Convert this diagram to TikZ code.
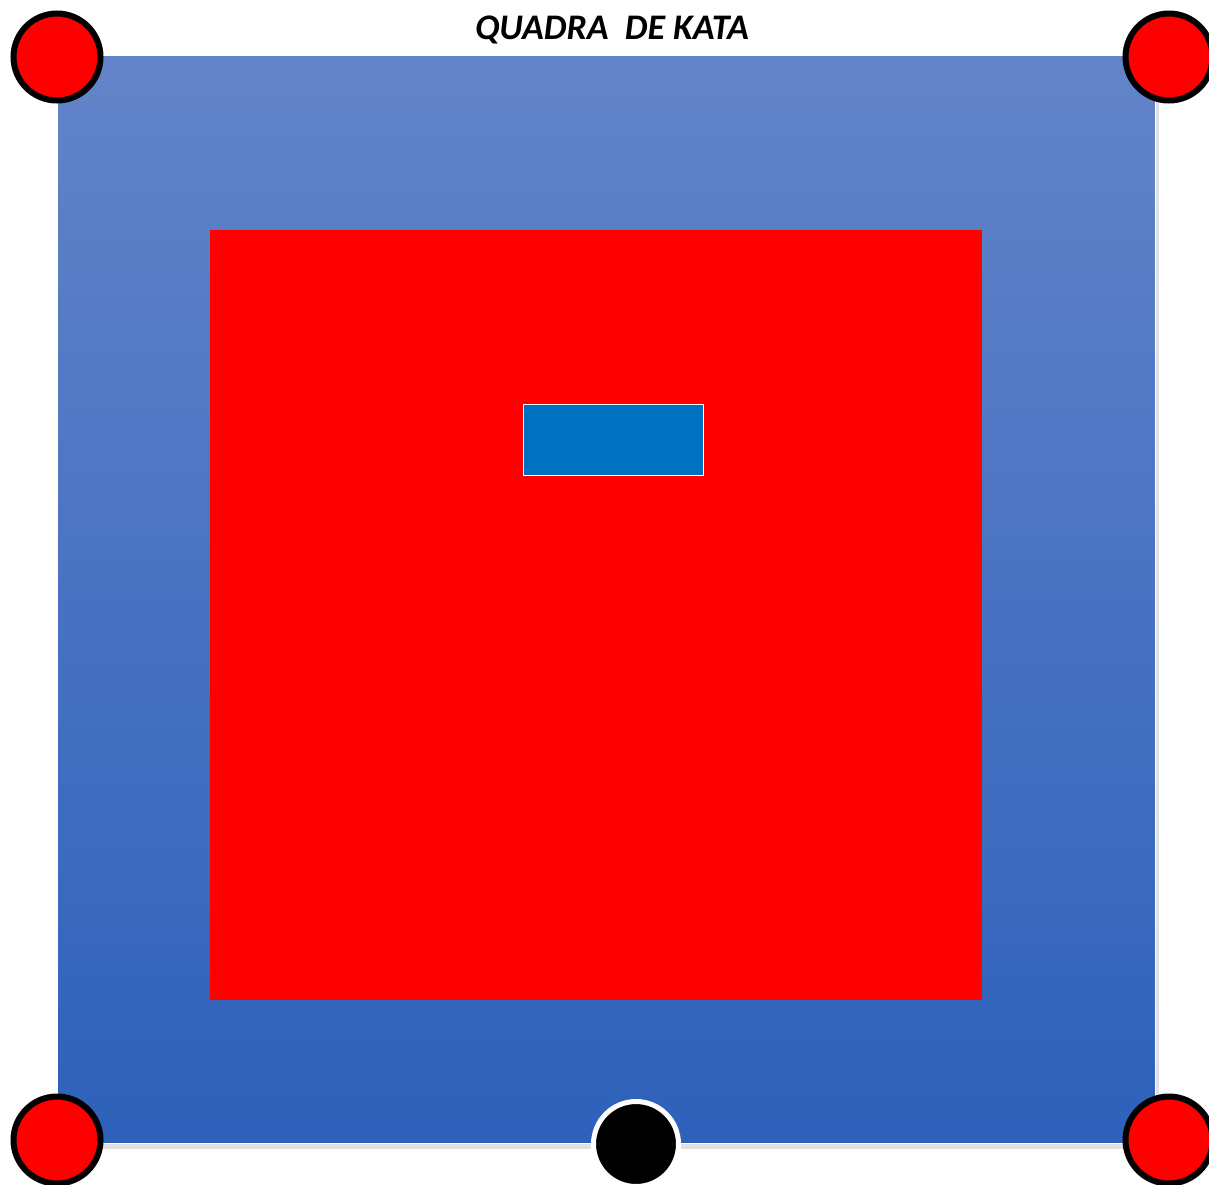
\documentclass[tikz,border=0pt]{standalone}
\usepackage{fontspec}
\newfontfamily\titlefont{Carlito}
\definecolor{matTop}{HTML}{6384C9}
\definecolor{matBot}{HTML}{2E61BA}
\definecolor{judgeBlue}{HTML}{0070C0}
\definecolor{pureRed}{HTML}{FF0000}
\tikzset{
  cornerdot/.style={circle, draw=black, line width=6pt, fill=pureRed, minimum size=87pt, inner sep=0pt},
  refdot/.style={circle, draw=white, line width=5pt, fill=black, minimum size=85pt, inner sep=0pt},
}
\begin{document}
\begin{tikzpicture}[x=1pt,y=-1pt]
\useasboundingbox (0,0) rectangle (1209,1184);
% shadow
\fill[black!25] (60,58) rectangle (1158,1147);
\fill[black!12] (59,57) rectangle (1159,1149);
% blue mat
\node[draw=white, line width=1pt, top color=matTop, bottom color=matBot, minimum width=1098pt, minimum height=1088pt, inner sep=0pt] (mat) at (606,599) {};
% red competition area
\node[fill=pureRed, minimum width=772pt, minimum height=770pt, inner sep=0pt] (area) at (596,615) {};
% judge box
\node[fill=judgeBlue, draw=white, line width=1pt, minimum width=180pt, minimum height=71pt, inner sep=0pt] (judge) at (613,440) {};
% title
\node[font=\titlefont\bfseries\itshape\fontsize{36}{40}\selectfont] (title) at (612,30) {QUADRA\ \ DE KATA};
% corner markers
\node[cornerdot] (tl) at (57,57) {};
\node[cornerdot] (tr) at (1169,57) {};
\node[cornerdot] (bl) at (57,1140) {};
\node[cornerdot] (br) at (1169,1140) {};
% start marker
\node[refdot] (start) at (636,1144) {};
\end{tikzpicture}
\end{document}
